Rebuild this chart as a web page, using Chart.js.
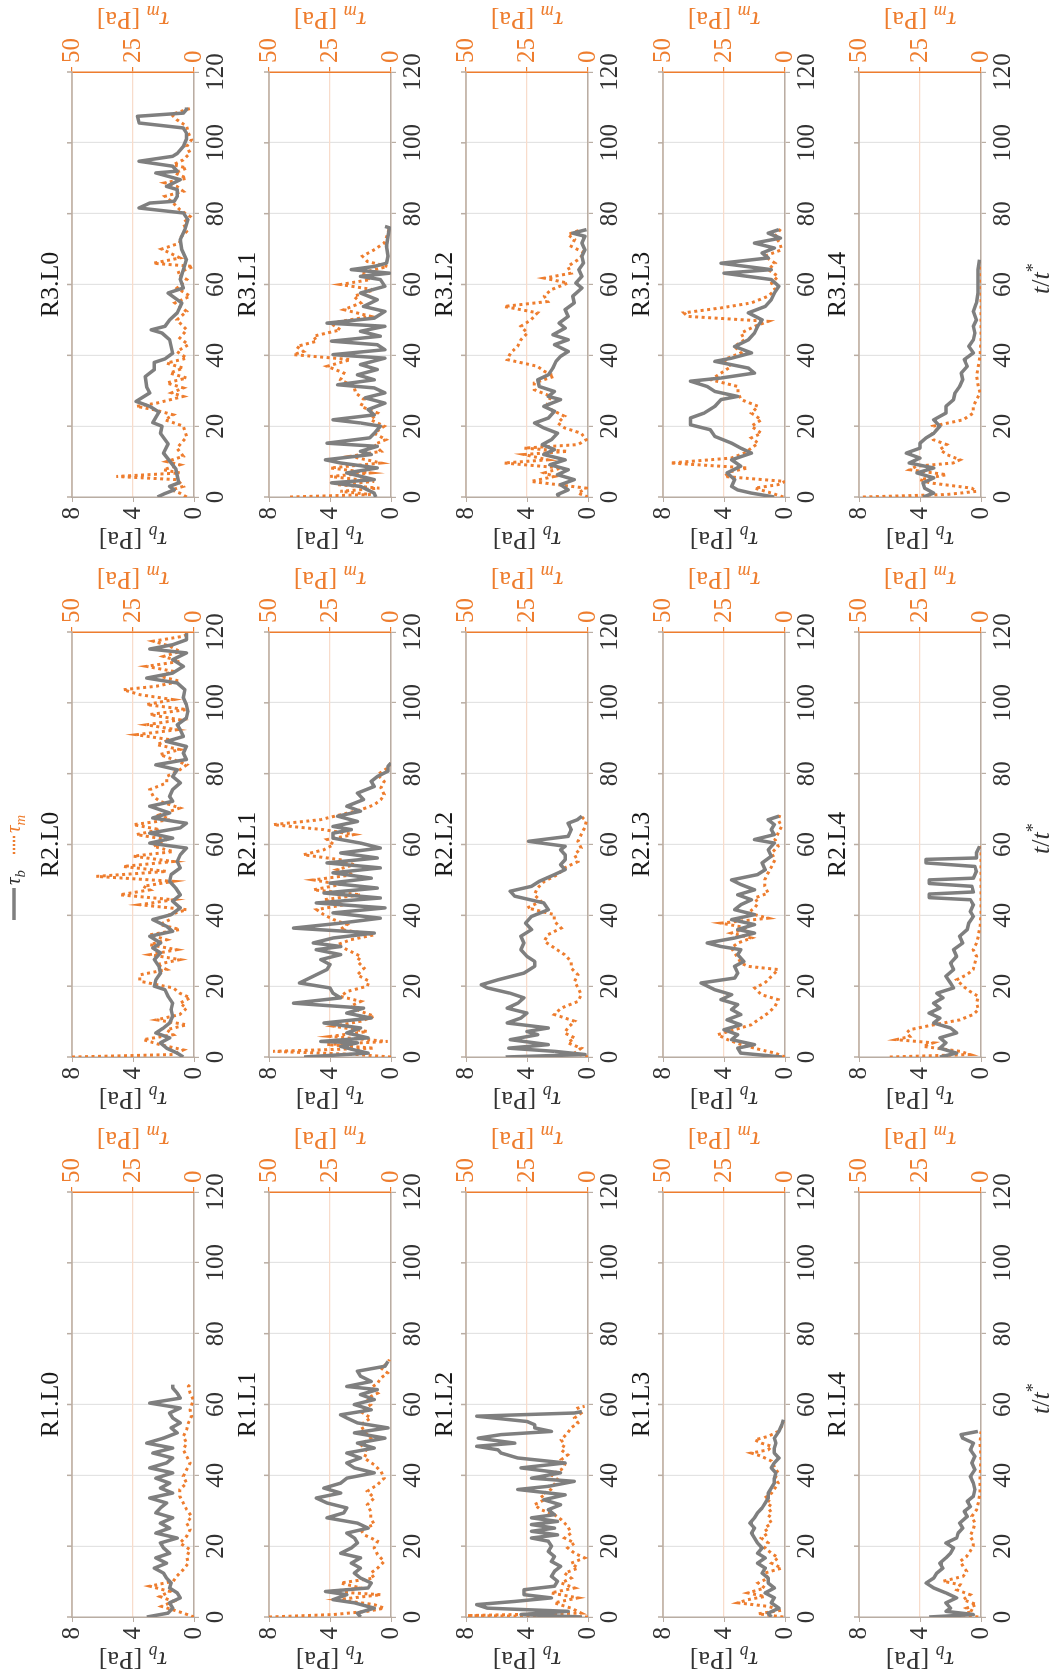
<!DOCTYPE html>
<html>
<head>
<meta charset="utf-8">
<script src="https://cdn.jsdelivr.net/npm/chart.js@4.4.1/dist/chart.umd.min.js"></script>
<style>
  html, body { margin: 0; padding: 0; background: #fff; overflow: hidden; }
  /* the figure is laid out landscape, then turned a quarter turn to the left */
  #fig { position: absolute; left: 0; top: 0; width: 1678px; height: 1053px;
         transform-origin: 0 0; transform: translate(0px, 1678px) rotate(-90deg); background: #fff; }
  #fig canvas { position: absolute; }
</style>
</head>
<body>
<div id="fig"></div>
<script>
// ---- data: [t/t*, value] ----
const R3L0_tauB = [[0,2.4],[1,1.9],[2,1.3],[3,1.6],[4,1.0],[8,1.2],[12.4,2.0],[15,1.7],[18,2.2],[20,2.1],[21,2.7],[24,2.3],[25.6,2.9],[27,3.8],[29.4,2.9],[31,3.1],[34,3.2],[36,2.6],[38,2.6],[39,1.9],[40.6,1.4],[42.5,1.5],[44.4,1.6],[46.3,2.1],[47.2,2.8],[48.2,1.9],[50,1.6],[52,1.1],[54.8,0.8],[57.6,1.7],[59,0.7],[61.4,0.9],[64.2,0.7],[67,0.5],[69.8,0.8],[72.7,0.9],[75.5,0.6],[78.3,0.4],[80.2,0.7],[81.6,3.6],[83,2.9],[83.5,1.3],[84.9,1.1],[86.8,1.1],[87.7,1.8],[89.6,0.9],[91.5,2.5],[92,1.1],[93.4,1.4],[94.8,3.6],[96.2,1.4],[97,1.1],[99,0.7],[101,0.5],[102.8,0.5],[104.2,0.7],[105.6,3.6],[107.5,3.7],[108.4,0.7],[109.4,0.5],[110,0.5]];
const R3L0_tauM = [[0,3],[1.1,5.8],[2,9.2],[3,4.4],[4.9,7],[5.8,31.8],[6.8,5.8],[7.7,12.6],[9.1,5.8],[10,11.2],[11.5,4.4],[13.8,7],[17,3],[20,4.4],[21.8,11.9],[23.2,8.5],[24.7,16.7],[25.6,23.6],[26.5,15.3],[28.4,4.4],[29.4,9.2],[30.8,4.4],[32.2,11.2],[33.6,3],[35,9.9],[36.4,4.4],[37.8,11.2],[39.2,3],[41.1,7],[43,2.3],[44.9,5.8],[47.2,3],[50,7],[52.4,3],[54.8,7.8],[56.7,1.6],[59,7],[61.4,3],[63.2,7],[65.1,0.3],[66,16.7],[67.5,5.8],[68.9,9.9],[70,13.3],[71.7,5.8],[73.1,5.8],[75,3],[77.4,4.4],[79.2,1.6],[81.1,5.8],[83,8.5],[84.9,11.9],[86.3,4.4],[87.7,7],[88.7,11.9],[90,3],[91.5,7.8],[92.9,3],[93.8,8.5],[95.2,4.4],[97.1,1.6],[99,3],[100.9,1],[102.8,2.3],[104.7,3],[106.5,7],[108,9.2],[109.4,3],[109.8,1]];
const R3L1_tauB = [[0,1.0],[1.1,1.1],[3,2.0],[4,3.9],[4.9,1.1],[6.8,2.9],[8.2,0.9],[9.6,3.3],[10.5,4.3],[12,1.3],[12.9,2.0],[14.3,0.9],[15.2,4.2],[16.7,1.4],[18,1.1],[20,0.7],[20.9,2.0],[21.8,3.8],[23.2,1.1],[24.7,1.5],[26.5,0.4],[28,1.7],[29.4,0.4],[30.8,1.1],[31.7,3.5],[33.1,1.1],[34.5,2.2],[36,0.9],[37.4,2.0],[39.2,0.4],[40.2,3.8],[41.6,0.4],[43,0.9],[44,3.9],[45.4,0.7],[46.8,2.0],[48.2,0.4],[49.1,4.2],[50.5,1.1],[52.4,0.4],[53.8,1.8],[55.7,0.9],[57.6,2.0],[59.5,0.4],[61.4,0.7],[62.3,2.0],[63.2,0.1],[64.2,2.6],[65.1,1.1],[66,0.3],[68,0.2],[70.8,0.3],[73.6,0.2],[76,0.1],[76.4,0.4]];
const R3L1_tauM = [[0,41.4],[0.7,8.3],[1.6,20.7],[2.5,4.8],[3.5,22],[4.4,6.9],[5.8,24.9],[6.8,8.3],[8.2,24.9],[9.6,4.1],[11.5,16.6],[12.9,4.1],[14.8,6.9],[16.2,2.1],[18,6.9],[20,2.8],[21.8,8.3],[23.7,5.5],[25.6,12.4],[27.5,11],[29.4,14.5],[31.2,15.2],[33.1,20.7],[35,19.3],[36.9,26.2],[38.8,16.6],[40.2,40],[41.1,35.9],[42.5,38.7],[44,30.4],[45.4,31.8],[47.2,20.7],[49.1,24.9],[51,8.3],[52.9,19.3],[54.8,12.4],[56.7,15.2],[58.5,6.9],[60,20.7],[61.4,8.3],[63.2,12.4],[65.1,1.4],[66.5,9.7],[68,11.7],[69.8,6.9],[71.7,2.8],[74.1,1.4],[76,0.7]];
const R3L2_tauB = [[0,1.9],[0.7,2.0],[2,1.3],[3.5,1.8],[4.9,0.9],[6.3,2.0],[7.7,1.3],[9.1,2.5],[10.5,1.5],[12,2.9],[13.4,2.2],[14.8,3.0],[16.2,2.4],[18,2.0],[19.5,2.9],[20.9,3.5],[22.3,2.6],[24.2,2.2],[25.6,2.9],[27.5,1.8],[28.4,2.6],[29.8,2.2],[31.2,3.2],[33.1,3.3],[34.5,2.6],[36.4,2.3],[38.3,2.1],[39.7,1.8],[41.1,1.3],[43,2.2],[44.4,1.3],[45.8,2.3],[47.7,1.5],[49.1,1.9],[51,1.3],[52.9,1.5],[54.8,0.9],[56.7,1.0],[59,0.4],[60.4,0.8],[62.3,0.4],[64.2,0.6],[66,0.3],[68,0.4],[69.8,0.2],[71.7,0.4],[73.6,0.2],[74.5,1.0],[75.5,0.1]];
const R3L2_tauM = [[0,0],[1.1,4.1],[2.5,0.7],[4.4,23.4],[5.8,13.8],[6.8,17.9],[8.2,11],[9.6,34.4],[10.5,16.5],[12,26.2],[12.9,8.3],[13.8,26.2],[14.8,4.1],[16.2,0.7],[18,2.8],[19.5,9.6],[20.9,12.4],[22.8,9.6],[24.7,15.2],[26.5,16.5],[28.4,15.2],[30.3,22],[32.2,22],[34.1,13.8],[35.5,17.9],[36.9,20.7],[38.8,33.1],[40.7,31.7],[42.5,28.9],[44.4,27.5],[46.3,24.8],[48.2,27.5],[50,23.4],[52,20.7],[53.8,34.4],[55.2,16.5],[56.7,17.9],[58.5,15.2],[60.4,8.3],[61.8,17.9],[63.2,6.9],[65.1,8.3],[67,4.1],[68.9,1.4],[70.8,6.9],[72.7,5.5],[74.1,8.3],[75.5,2.8]];
const R3L3_tauB = [[0,0.7],[1.1,2.2],[2,3.1],[3,3.5],[4.9,3.3],[6.8,3.8],[8.7,2.9],[10.5,3.5],[12.4,2.2],[13.8,2.9],[15.2,3.5],[17.1,4.6],[19,4.9],[20.4,6.2],[22.3,6.2],[23.7,5.3],[25.6,4.6],[27.5,4.2],[28.4,3.1],[29.8,4.6],[31.2,5.1],[32.7,6.2],[33.6,4.2],[35,2.0],[36.4,2.4],[38.3,4.6],[39.2,3.5],[40.7,2.2],[42.5,3.3],[44.4,2.4],[46.3,2.0],[48.2,1.8],[50,1.5],[52,2.4],[53.8,1.3],[55.7,0.9],[57.6,0.7],[59.5,0.4],[61.4,0.9],[63.2,4.0],[64.2,0.9],[66,4.2],[67.5,1.1],[68.9,1.5],[70.3,0.7],[71.7,2.0],[73.1,0.3],[74.5,1.1],[75.5,0.4]];
const R3L3_tauM = [[0,0.7],[1.1,5.5],[2.5,12.4],[3.5,2.8],[4.4,0],[5.8,24.9],[7.2,22],[8.2,15.2],[9.6,47],[11,22],[12.4,16.6],[13.8,13.8],[15.2,11],[16.7,13.8],[18,9.7],[20,13.8],[21.8,9.7],[23.7,13.8],[25.6,11],[27.5,18],[29.4,19.3],[31.2,19.3],[33.1,30.4],[35,26.2],[36.9,22],[38.8,24.9],[40.7,18],[42.5,20.7],[44.4,16.6],[46.3,18],[48.2,12.4],[49.6,6.9],[51,40],[52,41.4],[53.4,26.2],[54.8,13.8],[56.7,6.9],[58.5,4.1],[60.4,5.5],[62.3,2.8],[64.2,6.9],[66,4.1],[68,8.3],[69.8,1.4],[71.7,2.1],[73.6,4.1],[76,1.4]];
const R3L4_tauB = [[0,3.8],[1.1,3.1],[2.5,3.7],[4,3.8],[5.4,3.1],[6.8,4.2],[8.2,3.1],[9.6,4.7],[11,4.0],[12.4,4.9],[13.8,4.0],[15.2,4.0],[16.7,3.6],[18,3.1],[20,2.7],[21.8,3.1],[23.7,2.3],[25.6,2.3],[27.5,1.8],[29.4,1.7],[31.2,1.4],[33.1,1.2],[35,1.3],[36.9,0.9],[38.8,1.1],[40.7,0.5],[42.5,0.8],[44.4,0.5],[46.3,0.4],[48.2,0.5],[50,0.3],[52.4,0.5],[54.8,0.3],[57.6,0.2],[61.4,0.2],[64.2,0.2],[67,0.1]];
const R3L4_tauM = [[0,48.4],[0.7,14.1],[1.6,1.8],[2.5,3.8],[4,21],[4.9,25],[6.3,14.1],[7.7,29.2],[8.7,26.4],[9.6,11.4],[10.5,8.6],[12,14.1],[13.4,16.8],[14.8,14.1],[16.2,19.6],[17.6,20.3],[19,18.2],[20,19.6],[21.8,7.3],[23.7,3.2],[25.6,3.2],[27.5,1.8],[29.4,0.4],[31.2,1.1],[34.1,1.8],[36.9,1.1],[39.7,0.4],[44.4,0],[52,0],[63.2,0],[67,0]];

const R2L0_tauB = [[0,0.7],[1.1,1.1],[2.5,1.8],[4,2.2],[5.4,1.6],[6.8,2.5],[8.2,2.0],[9.6,1.6],[11.5,1.4],[13.4,1.5],[15.2,1.4],[17.1,1.7],[19,1.9],[20,2.6],[21.8,2.5],[23.7,2.2],[25.6,2.3],[27.5,2.6],[29.4,2.2],[30.8,2.7],[32.2,2.2],[34.1,2.9],[35.5,1.4],[36.9,1.8],[38.8,2.7],[40.2,1.5],[42.1,0.9],[44,1.4],[45.8,0.9],[47.7,1.2],[49.6,1.6],[51.5,1.5],[53.4,0.9],[55.2,1.1],[57.1,0.9],[59,0.5],[60.4,2.9],[61.8,1.4],[63.2,2.9],[64.7,0.9],[66,0.5],[67.5,2.7],[68.9,1.6],[70.8,2.9],[72.2,1.4],[73.6,1.6],[75.5,1.4],[77.4,0.9],[79.2,1.4],[81.1,1.1],[82.5,2.5],[84,0.5],[85.8,0.7],[87.7,0.5],[89.1,1.8],[90.5,0.7],[92.4,0.9],[93.8,1.1],[95.7,0.5],[97.6,0.4],[99.5,0.5],[101.4,0.7],[103.7,0.6],[105.6,1.1],[107,3.1],[108.4,1.4],[110.3,0.7],[112.2,1.4],[114.1,0.5],[115.2,2.9],[116.4,1.4],[117.8,0.5],[119.7,0.5]];
const R2L0_tauM = [[0,50],[0.7,8.5],[2,4.4],[3.5,14],[4.9,20.8],[6.3,8.5],[7.7,11.2],[9.1,3],[10.5,15.3],[12,5.8],[13.8,3],[15.2,5.8],[16.7,1.6],[18,5.8],[19.5,8.5],[21.4,22.2],[23.2,22.2],[24.7,11.2],[26.1,15.3],[27.5,5.8],[28.9,18.1],[30.3,7.1],[31.7,18.1],[33.1,11.2],[34.5,18.1],[36,5.8],[37.4,14],[38.8,9.9],[40.2,9.9],[41.6,3],[43,22.2],[44.4,8.5],[45.8,30.4],[47.2,18.1],[48.2,20.8],[49.6,8.5],[51,40],[52.4,11.2],[53.8,29],[55.2,8.5],[56.7,24.9],[58,8.5],[59.5,16.7],[61.4,11.2],[62.8,23.6],[64.2,14],[65.6,24.9],[67,9.9],[68.4,14],[70.3,5.8],[72.2,14],[73.6,16.7],[75.5,18.1],[77.4,11.2],[79.2,11.2],[81.1,5.8],[82.5,3],[84,8.5],[85.4,14],[86.8,5.8],[88.2,15.3],[89.6,9.9],[91,23.6],[92.4,7.1],[93.8,19.5],[95.2,5.8],[96.7,18.1],[98.1,3],[99.5,19.5],[100.9,8.5],[102.3,22.2],[103.7,29],[104.7,15.3],[106.1,5.8],[107.5,14],[108.9,8.5],[110.3,19.5],[111.7,5.8],[113.1,12.5],[114.5,5.8],[116,9.9],[117.4,16.7],[118.8,4.4],[119.7,1.6]];
const R2L1_tauB = [[0,5.7],[1.1,1.5],[2,2.4],[3,3.3],[4,2.2],[4.4,4.6],[5.4,1.5],[6.8,2.9],[8.2,2.0],[9.6,4.4],[11,1.3],[12.4,2.9],[13.8,1.8],[15.2,6.4],[16.7,3.3],[18,3.8],[19.5,4.0],[20.9,6.0],[22.8,5.1],[24.7,4.2],[26.1,4.0],[27.5,4.6],[28.9,3.3],[30.3,4.9],[31.2,3.3],[32.2,5.1],[33.6,3.8],[35,1.1],[36.4,6.4],[37.8,3.3],[39.2,0.7],[40.7,3.8],[42.1,0.4],[43.5,4.9],[44.9,0.7],[46.3,4.4],[47.7,0.9],[49.1,4.0],[50.5,1.3],[52,3.8],[53.4,0.7],[54.8,4.2],[56.2,0.9],[57.6,3.3],[59,0.7],[60.4,2.0],[61.8,3.8],[63.2,3.8],[64.2,2.6],[65.1,3.8],[66.5,2.2],[68,3.5],[69.4,2.0],[70.8,2.9],[72.7,1.8],[74.5,2.2],[76.4,1.1],[77.8,1.3],[79.2,0.9],[80.7,0.2],[82.1,0.2],[83,0]];
const R2L1_tauM = [[0,0],[0.7,13.8],[1.6,48.3],[2.5,6.9],[3.5,26.2],[4.4,1.4],[5.8,24.9],[7.2,9.7],[8.7,23.5],[10.1,12.4],[11.5,6.9],[12.9,12.4],[14.3,16.6],[15.7,12.4],[17.1,20.7],[18.5,18],[20,9.7],[21.4,9],[23.2,13.8],[25.1,11],[27,13.8],[28.4,12.4],[30.3,18],[31.7,22],[33.1,16.6],[34.5,6.9],[36,20.7],[37.4,18],[38.8,23.5],[40.2,27.6],[41.6,30.4],[43,19.3],[44.4,27.6],[45.8,12.4],[47.2,31.8],[48.7,20.7],[50,31.8],[51.5,15.2],[52.9,22],[54.3,15.2],[55.7,20.7],[57.1,35.9],[58.5,27.6],[60,23.5],[61.4,26.2],[62.8,15.2],[64.2,27.6],[65.6,48.3],[67,29],[68.4,20.7],[69.8,12.4],[71.2,6.9],[72.7,4.1],[74.1,2.8],[76,4.1],[77.8,2.8],[79.7,5.5],[81.6,1.4],[83,0]];
const R2L2_tauB = [[0,5.4],[0.7,0.2],[1.6,2.2],[2.5,5.2],[3.5,2.6],[4.9,5.1],[6.3,3.3],[7.2,4.0],[8.2,2.6],[9.6,5.3],[11,4.4],[12.4,4.0],[13.8,5.3],[15.2,4.6],[16.7,4.2],[18,5.1],[19.5,6.6],[20.4,7.0],[21.8,5.9],[23.7,4.2],[25.6,3.5],[27,3.5],[28.4,4.0],[30.3,4.4],[32.2,4.2],[34.1,4.4],[36,3.7],[37.8,4.1],[39.7,3.7],[41.6,2.6],[43.5,2.9],[45.4,4.8],[46.8,5.1],[48.2,3.7],[49.6,3.2],[51.5,2.2],[52.9,1.5],[54.3,1.8],[55.7,1.5],[57.1,1.5],[58.5,1.8],[59.5,1.5],[60.9,3.9],[62.3,1.3],[64.2,1.1],[66,1.3],[67,0.7],[68,0.4]];
const R2L2_tauM = [[0,0],[1.1,5.5],[2.5,2.8],[4,8.3],[5.4,5.5],[6.8,9.6],[8.2,8.3],[10.1,5.5],[12,13.8],[13.8,11],[15.7,4.1],[17.6,2.8],[19.5,4.1],[21.4,5.5],[23.2,4.1],[25.1,6.9],[27,6.9],[28.9,9.6],[30.8,13.8],[32.7,17.9],[34.5,16.5],[36.4,11],[38.3,13.8],[40.2,13.8],[42.1,24.8],[44,19.3],[45.8,22],[47.7,20.7],[49.6,17.9],[51.5,12.4],[53.4,9.6],[55.2,4.1],[57.1,5.5],[59,2.8],[60.9,4.1],[62.8,2.8],[64.7,1.4],[66.5,0.7],[68,2.8]];
const R2L3_tauB = [[0,0.2],[1.1,2.9],[2.5,3.1],[3.5,2.0],[4.9,3.5],[6.3,3.1],[7.7,4.0],[9.1,2.9],[10.5,3.8],[12,2.9],[13.4,3.5],[14.8,3.1],[16.2,4.2],[17.6,3.5],[19,4.6],[20.9,5.5],[22.3,3.3],[23.7,3.1],[25.6,3.3],[27,2.7],[28.9,3.1],[30.3,2.9],[31.2,4.2],[32.2,5.1],[33.6,3.3],[35,2.0],[36,3.1],[37.4,2.0],[38.8,3.5],[40.2,2.0],[41.6,3.3],[43,2.9],[44.4,2.2],[45.8,3.1],[47.2,2.0],[48.7,2.9],[50,3.5],[51.5,1.8],[52.9,1.3],[54.8,1.5],[56.7,0.9],[58.5,1.1],[60.4,0.7],[61.4,2.0],[62.8,0.7],[64.2,0.9],[65.6,0.7],[67,1.1],[68,0.4]];
const R2L3_tauM = [[0,0],[1.1,4.1],[2,9.7],[3.5,18],[4.9,23.5],[6.3,27.6],[7.7,20.7],[9.1,13.8],[10.5,11],[12.4,6.9],[14.3,4.1],[16.2,2.8],[17.6,9.7],[19.5,12.4],[20.9,8.3],[22.8,5.5],[24.7,2.8],[25.6,15.2],[26.5,18],[28,19.3],[29.4,20.7],[30.8,22],[32.2,19.3],[33.6,13.8],[35,22],[36.4,15.2],[37.8,26.2],[39.2,6.9],[40.7,15.2],[42.1,12.4],[43.5,11],[44.9,12.4],[46.3,6.9],[48.2,8.3],[50,8.3],[52,6.9],[53.8,5.5],[55.7,4.1],[57.6,5.5],[59.5,2.8],[61.4,4.1],[63.2,2.8],[65.1,1.4],[67,2.8],[68.4,2.1]];
const R2L4_tauB = [[0,2.7],[1.1,1.6],[2.5,2.7],[4,2.3],[5.4,2.7],[6.8,1.6],[8.2,2.0],[9.6,3.1],[11,2.7],[12.4,3.4],[13.8,2.7],[15.2,3.1],[16.7,2.5],[18,2.9],[19.5,1.8],[20.9,2.0],[22.8,2.3],[24.7,1.8],[26.5,2.0],[28.4,1.6],[30.3,1.8],[32.2,1.2],[34.1,1.4],[36,0.9],[37.8,0.8],[39.7,0.5],[41.1,0.7],[43,0.5],[44.4,0.7],[45,3.4],[46,3.4],[46.6,0.5],[48.2,0.6],[49,3.4],[50,3.4],[50.5,0.5],[52.4,0.3],[53.8,0.4],[54.8,3.6],[55.8,3.6],[56.2,0.3],[57.6,0.3],[59.5,0.1]];
const R2L4_tauM = [[0,37.4],[0.7,4.5],[1.6,8.6],[3,23.7],[4,19.6],[4.9,34.7],[5.8,29.2],[6.8,30.5],[7.7,29.2],[8.7,22.3],[9.6,15.5],[10.5,8.6],[12,3.2],[13.4,1.1],[15.2,1.8],[17.1,1.1],[18.5,4.5],[20,7.3],[21.8,10],[23.2,5.9],[24.7,3.2],[26.5,2.5],[28.4,1.8],[30.3,3.2],[32.2,1.8],[34.1,1.1],[36.9,0.4],[40.7,0],[48.2,0],[58.5,0],[60.4,0.4]];

const R1L0_tauB = [[0,3.1],[1.1,1.7],[2.5,1.4],[4,1.6],[5.4,0.9],[6.8,1.1],[8.2,1.6],[9.6,1.5],[11,1.8],[12.4,2.0],[13.8,2.6],[15.2,1.8],[16.7,2.5],[18,1.6],[19.5,2.0],[20.9,2.2],[22.3,1.1],[23.7,2.5],[25.1,1.6],[26.5,2.2],[28,1.4],[29.4,2.5],[30.8,2.2],[32.2,1.8],[33.6,2.9],[35,1.4],[36.4,2.2],[37.8,1.6],[39.2,2.5],[40.7,1.4],[42.1,2.9],[43.5,1.8],[44.9,1.4],[46.3,2.7],[47.7,1.4],[49.1,3.1],[50.5,2.0],[52,1.1],[53.4,1.5],[54.8,0.9],[56.2,1.4],[57.6,1.6],[59,0.9],[60.4,2.9],[61.8,0.9],[63.2,1.1],[64.7,1.4],[65.6,1.4]];
const R1L0_tauM = [[0,0],[1.1,4.4],[2,8.5],[3,13.3],[4.4,8.5],[5.8,14],[7.2,9.9],[8.7,18.1],[10.1,8.5],[11.5,7.1],[13.4,4.4],[15.2,2.3],[17.1,3],[19,1.6],[20.9,5.8],[22.8,3],[24.7,1.6],[26.5,3],[28.4,1],[30.3,3],[32.2,4.4],[34.1,5.8],[36,5.8],[37.8,3],[39.7,4.4],[41.6,3],[43.5,1.6],[45.4,3],[47.2,4.4],[49.1,3],[51,4.4],[52.9,3],[54.8,2.3],[56.7,1],[58.5,1.6],[61.4,0.3],[63.2,1.6],[65.1,2.3],[66,1]];
const R1L1_tauB = [[0,2.0],[1.1,2.2],[2.5,1.1],[4,2.4],[4.9,3.8],[6.3,2.9],[7.2,4.3],[8.2,1.5],[9.6,1.3],[11,2.0],[12.4,2.4],[13.8,2.0],[15.2,2.6],[16.7,2.0],[18,3.3],[19.5,2.6],[20.9,2.2],[22.3,2.4],[23.7,2.9],[25.1,1.5],[26.5,2.2],[28,4.2],[29.4,3.1],[30.8,2.9],[32.2,4.2],[33.6,4.9],[35,3.3],[36.4,4.4],[37.8,3.3],[39.2,2.9],[40.7,1.1],[42.1,2.4],[43.5,2.9],[44.9,2.0],[46.3,2.9],[47.7,1.1],[49.1,2.2],[50.5,0.4],[52,2.4],[53.4,0.2],[54.8,2.2],[56.2,2.9],[57.1,3.3],[58.5,1.3],[60,2.4],[61.4,1.1],[62.8,2.0],[64.2,0.9],[65.1,2.9],[66.5,1.3],[68,2.0],[69.4,2.2],[70.8,0.4],[72.2,0.2]];
const R1L1_tauM = [[0,50],[0.7,23.5],[1.6,9.7],[2.5,2.8],[3.5,6.9],[4.9,22],[6.3,4.1],[7.2,24.9],[8.2,12.4],[9.6,20.7],[11,6.9],[12.4,8.3],[13.8,5.5],[15.7,2.8],[17.6,5.5],[19.5,6.9],[21.4,5.5],[23.2,11],[24.7,12.4],[26.1,6.9],[28,8.3],[29.8,8.3],[31.7,9.7],[33.6,6.9],[35.5,9.7],[37.4,5.5],[39.2,2.8],[41.1,4.1],[43,6.9],[44.9,11],[46.8,9.7],[48.7,12.4],[50.5,8.3],[52.4,11],[54.3,12.4],[56.2,8.3],[58,12.4],[60,8.3],[61.8,9.7],[63.2,5.5],[64.7,8.3],[66,5.5],[67.5,4.1],[68.9,1.4],[70.3,4.1],[71.7,1.4],[72.7,0.7]];
const R1L2_tauB = [[0,0.4],[0.7,4.4],[1.6,1.3],[2.5,6.6],[3.5,7.3],[4.4,4.8],[5.4,2.4],[6.3,4.2],[7.7,4.2],[8.7,2.2],[10.1,2.0],[11.5,2.4],[12.9,2.2],[14.3,1.8],[15.7,2.4],[17.1,2.2],[18.5,2.6],[20,2.4],[21.4,2.6],[22.3,3.7],[23.2,2.0],[24.2,3.7],[25.1,2.2],[26.1,3.7],[27,2.0],[28,3.7],[28.9,2.2],[30.3,2.6],[31.7,1.8],[33.1,2.9],[34.5,1.5],[36,4.6],[36.9,2.6],[38.3,0.9],[39.2,3.7],[40.7,1.8],[42.1,4.4],[43.5,1.5],[44.9,4.6],[46.3,5.7],[47.2,5.9],[48.2,7.3],[49.1,4.8],[50.5,7.2],[51.5,5.7],[52.4,2.4],[53.4,3.5],[54.3,3.5],[55.2,4.0],[56.7,7.3],[57.6,0.9],[58,0.4]];
const R1L2_tauM = [[0,0],[0.4,49.6],[1.1,2.8],[2.5,6.9],[4,13.8],[5.4,4.1],[6.8,15.2],[8.2,5.5],[9.6,11],[11,6.9],[12.4,9.6],[13.8,4.1],[15.2,6.9],[16.7,1.4],[18,5.5],[19.5,8.3],[20.9,5.5],[22.3,9.6],[23.7,6.9],[25.6,8.3],[27.5,11],[28.9,13.8],[30.3,19.3],[31.7,22],[33.1,17.9],[34.5,19.3],[36,15.2],[37.4,13.8],[38.8,12.4],[40.2,15.2],[41.6,11],[43,9.6],[44.4,11],[45.8,8.3],[47.2,11],[48.7,9.6],[50,11],[52,8.3],[53.4,6.9],[54.8,4.1],[56.2,5.5],[57.6,2.8],[59,4.1],[59.5,1.4]];
const R1L3_tauB = [[0,0.9],[1.1,1.1],[2.5,0.4],[4,0.9],[5.4,0.7],[6.8,1.3],[8.2,0.7],[9.6,1.1],[11,1.1],[12.4,1.5],[13.8,1.3],[15.2,1.8],[16.7,1.3],[18,1.8],[19.5,1.5],[20.9,1.8],[22.3,2.0],[23.7,2.2],[25.1,2.0],[26.5,2.3],[28,2.0],[29.4,1.8],[30.8,1.5],[32.2,1.3],[33.6,1.1],[35,1.1],[36.4,0.9],[37.8,0.7],[39.2,0.7],[40.7,0.6],[42.1,0.9],[43.5,0.7],[44.9,0.4],[46.3,0.7],[47.7,0.7],[49.1,0.6],[50.5,0.7],[52.4,0.4],[54.3,0.2],[55.7,0.1]];
const R1L3_tauM = [[0,0.7],[0.9,11],[1.9,1.4],[3,6.9],[4,19.3],[4.9,15.2],[5.8,8.3],[6.8,15.2],[8.2,8.3],[9.6,11],[11,6.9],[12.4,8.3],[13.8,1.4],[15.2,5.5],[16.7,2.8],[18,5.5],[19.5,8.3],[20.9,6.9],[22.3,9.7],[23.7,6.9],[25.1,8.3],[26.5,5.5],[28,6.9],[29.4,5.5],[30.8,6.9],[32.2,5.5],[33.6,8.3],[35,5.5],[36.4,4.1],[37.8,2.8],[39.2,4.1],[40.7,2.8],[42.1,4.1],[44,5.5],[45.4,9.7],[46.3,13.8],[47.2,6.9],[48.2,5.5],[49.1,9.7],[50,12.4],[51,6.9],[52.4,2.8],[53.8,1.4],[55.2,0.7]];
const R1L4_tauB = [[0,3.4],[0.7,0.5],[1.6,2.3],[2.5,2.0],[4,2.3],[5.4,1.6],[6.8,2.3],[8.2,3.1],[9.6,3.6],[11,3.1],[12.4,2.9],[13.8,2.5],[15.2,2.7],[16.7,2.3],[18,2.0],[19.5,1.8],[20.9,2.3],[22.3,1.6],[23.7,1.5],[25.1,1.2],[26.5,1.4],[28.4,0.9],[29.8,1.1],[31.2,0.7],[32.7,0.9],[34.1,0.5],[36,0.4],[37.8,0.5],[39.7,0.7],[41.6,0.4],[43.5,0.6],[45.4,0.4],[47.2,0.7],[49.1,0.5],[50.5,1.2],[51.5,1.3],[52.4,0.2]];
const R1L4_tauM = [[0,1.1],[0.7,8.6],[1.6,3.2],[2.5,5.9],[3.5,1.8],[4.9,7.3],[6.3,4.5],[7.7,10],[9.1,8.6],[10.1,15.5],[11.5,7.3],[12.9,5.9],[14.3,7.3],[15.7,8.6],[17.1,5.9],[18.5,4.5],[20,3.2],[21.4,3.2],[22.8,4.5],[24.7,3.2],[26.5,2.5],[28.4,3.8],[30.3,1.8],[32.2,1.1],[35,0.4],[39.7,0.4],[44.4,0],[49.1,0.4],[52.4,0]];

const regimes = ['R1', 'R2', 'R3'];
const levels = ['L0', 'L1', 'L2', 'L3', 'L4'];
const tTicks = [0, 20, 40, 60, 80, 100, 120];
const tauBTicks = [0, 4, 8];
const tauMTicks = [0, 25, 50];

const series = {
  R1L0: [R1L0_tauB, R1L0_tauM], R1L1: [R1L1_tauB, R1L1_tauM], R1L2: [R1L2_tauB, R1L2_tauM], R1L3: [R1L3_tauB, R1L3_tauM], R1L4: [R1L4_tauB, R1L4_tauM],
  R2L0: [R2L0_tauB, R2L0_tauM], R2L1: [R2L1_tauB, R2L1_tauM], R2L2: [R2L2_tauB, R2L2_tauM], R2L3: [R2L3_tauB, R2L3_tauM], R2L4: [R2L4_tauB, R2L4_tauM],
  R3L0: [R3L0_tauB, R3L0_tauM], R3L1: [R3L1_tauB, R3L1_tauM], R3L2: [R3L2_tauB, R3L2_tauM], R3L3: [R3L3_tauB, R3L3_tauM], R3L4: [R3L4_tauB, R3L4_tauM]
};

// ---- look ----
const GRAY = '#7f7f7f';
const ORANGE = '#ee7d2e';
const FRAME = '#b9ada3';
const TXT = '#333333';
const SERIF = '"Liberation Serif", "Times New Roman", serif';

// landscape layout (before the quarter turn)
const colLeft = [61, 621, 1181];
const rowTop = [72, 269, 466, 663, 859];
const PW = 425, PH = 122;
const ML = 61, MR = 72, MT = 72, MB = 75;

function richText(ctx, parts, x, y, size, color, align) {
  const items = parts.map(([s, k]) => {
    const small = k.indexOf('sub') >= 0 || k.indexOf('sup') >= 0;
    const fs = small ? size * 0.7 : size;
    const font = (k.indexOf('i') >= 0 && k !== 'sup' ? 'italic ' : '') + fs + 'px ' + SERIF;
    ctx.font = font;
    const dy = k.indexOf('sub') >= 0 ? size * 0.22 : (k.indexOf('sup') >= 0 ? -size * 0.4 : 0);
    return { s, font, dy, w: ctx.measureText(s).width };
  });
  const total = items.reduce((a, b) => a + b.w, 0);
  let cx = align === 'center' ? x - total / 2 : x;
  ctx.fillStyle = color;
  ctx.textAlign = 'left';
  ctx.textBaseline = 'alphabetic';
  items.forEach(p => { ctx.font = p.font; ctx.fillText(p.s, cx, y + p.dy); cx += p.w; });
}

const panelPlugin = {
  id: 'panel',
  beforeDatasetsDraw(chart) {
    const a = chart.chartArea, ctx = chart.ctx, xs = chart.scales.x;
    ctx.save();
    ctx.strokeStyle = FRAME;
    ctx.lineWidth = 1.5;
    ctx.beginPath();
    ctx.moveTo(a.left, a.top);
    ctx.lineTo(a.right, a.top);
    xs.ticks.forEach(t => {
      const px = xs.getPixelForValue(t.value);
      ctx.moveTo(px, a.top);
      ctx.lineTo(px, a.top - 5);
    });
    ctx.stroke();
    ctx.restore();
  },
  afterDraw(chart, args, opts) {
    const a = chart.chartArea, ctx = chart.ctx;
    const midX = (a.left + a.right) / 2, midY = (a.top + a.bottom) / 2;
    ctx.save();
    // panel name
    ctx.font = '26px ' + SERIF;
    ctx.fillStyle = '#1a1a1a';
    ctx.textAlign = 'center';
    ctx.textBaseline = 'alphabetic';
    ctx.fillText(opts.name, midX, a.top - 14);
    // left axis title
    ctx.save();
    ctx.translate(a.left - 35, midY);
    ctx.rotate(-Math.PI / 2);
    richText(ctx, [['τ', 'i'], ['b', 'subi'], [' [Pa]', '']], 0, 0, 26, TXT, 'center');
    ctx.restore();
    // right axis title
    ctx.save();
    ctx.translate(a.right + 60, midY);
    ctx.rotate(-Math.PI / 2);
    richText(ctx, [['τ', 'i'], ['m', 'subi'], [' [Pa]', '']], 0, 0, 26, ORANGE, 'center');
    ctx.restore();
    // time axis title, bottom row only
    if (opts.xTitle) {
      richText(ctx, [['t', 'i'], ['/', ''], ['t', 'i'], ['*', 'sup']], midX + 6, a.bottom + 68, 26, TXT, 'center');
    }
    // figure legend, drawn once
    if (opts.legend) {
      const lx = a.left + 137, ly = 14;
      ctx.lineWidth = 3.5;
      ctx.strokeStyle = GRAY;
      ctx.beginPath(); ctx.moveTo(lx, ly); ctx.lineTo(lx + 32, ly); ctx.stroke();
      richText(ctx, [['τ', 'i'], ['b', 'subi']], lx + 35, ly + 6, 21, TXT, 'left');
      ctx.strokeStyle = ORANGE;
      ctx.lineWidth = 2.5;
      ctx.setLineDash([2, 2]);
      ctx.beginPath(); ctx.moveTo(lx + 66, ly); ctx.lineTo(lx + 85, ly); ctx.stroke();
      ctx.setLineDash([]);
      richText(ctx, [['τ', 'i'], ['m', 'subi']], lx + 87, ly + 6, 21, ORANGE, 'left');
    }
    ctx.restore();
  }
};

const toXY = arr => arr.map(p => ({ x: p[0], y: p[1] }));
const fixTicks = list => scale => { scale.ticks = list.map(v => ({ value: v })); };

const fig = document.getElementById('fig');
regimes.forEach((reg, c) => {
  levels.forEach((lev, r) => {
    const key = reg + lev;
    const cv = document.createElement('canvas');
    cv.width = ML + PW + MR;
    cv.height = MT + PH + MB;
    cv.style.left = (colLeft[c] - ML) + 'px';
    cv.style.top = (rowTop[r] - MT) + 'px';
    fig.appendChild(cv);
    new Chart(cv, {
      type: 'line',
      data: {
        datasets: [
          { data: toXY(series[key][0]), yAxisID: 'y', borderColor: GRAY, borderWidth: 3.5,
            pointRadius: 0, tension: 0, fill: false, borderJoinStyle: 'round' },
          { data: toXY(series[key][1]), yAxisID: 'y2', borderColor: ORANGE, borderWidth: 3,
            borderDash: [3, 3.5], pointRadius: 0, tension: 0, fill: false }
        ]
      },
      options: {
        responsive: false,
        animation: false,
        events: [],
        layout: { padding: { top: MT, left: 0, right: 0, bottom: 0 }, autoPadding: false },
        plugins: {
          legend: { display: false },
          tooltip: { enabled: false },
          panel: { name: reg + '.' + lev, xTitle: r === 4, legend: c === 1 && r === 0 }
        },
        scales: {
          x: {
            type: 'linear', min: 0, max: 120, position: 'bottom',
            afterBuildTicks: fixTicks(tTicks),
            afterFit: s => { s.height = MB; },
            grid: { color: '#e3e3e3', lineWidth: 1.2, tickLength: 5, tickColor: FRAME },
            border: { display: true, color: FRAME, width: 1.5 },
            ticks: { color: TXT, padding: 2, maxRotation: 0, font: { family: SERIF, size: 25 } }
          },
          y: {
            type: 'linear', min: 0, max: 8, position: 'left',
            afterBuildTicks: fixTicks(tauBTicks),
            afterFit: s => { s.width = ML; },
            grid: { drawOnChartArea: false, tickLength: 5, tickColor: FRAME },
            border: { display: true, color: FRAME, width: 1.5 },
            ticks: { color: TXT, padding: 5, font: { family: SERIF, size: 25 } }
          },
          y2: {
            type: 'linear', min: 0, max: 50, position: 'right',
            afterBuildTicks: fixTicks(tauMTicks),
            afterFit: s => { s.width = MR; },
            grid: { color: '#f8dccb', lineWidth: 1.2, tickLength: 5, tickColor: ORANGE },
            border: { display: true, color: ORANGE, width: 1.5 },
            ticks: { color: ORANGE, padding: 4, font: { family: SERIF, size: 25 } }
          }
        }
      },
      plugins: [panelPlugin]
    });
  });
});
</script>
</body>
</html>
